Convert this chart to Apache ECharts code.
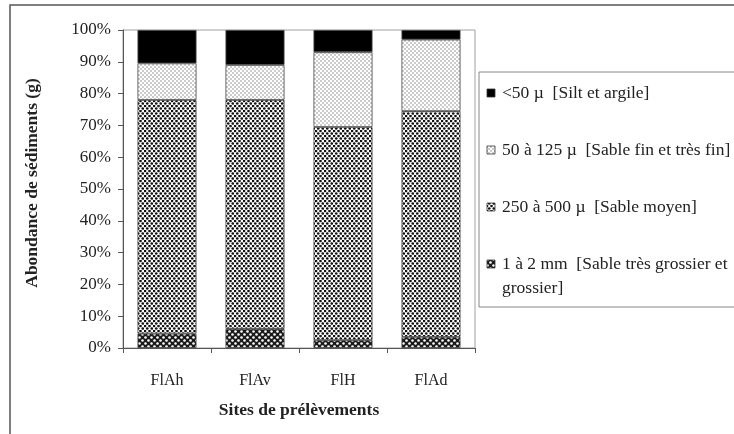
<!DOCTYPE html>
<html>
<head>
<meta charset="utf-8">
<script src="https://cdn.jsdelivr.net/npm/echarts@6/dist/echarts.min.js"></script>
<style>
html,body{margin:0;padding:0;background:#fff;}
#chart{width:734px;height:434px;}
</style>
</head>
<body>
<div id="chart"></div>
<script>
// ---- data ----
const categories = ['FlAh', 'FlAv', 'FlH', 'FlAd'];
const seriesNames = [
  '1 à 2 mm  [Sable très grossier et grossier]',
  '250 à 500 µ  [Sable moyen]',
  '50 à 125 µ  [Sable fin et très fin]',
  '<50 µ  [Silt et argile]'
];
// legend labels as displayed (top to bottom), with the original line break
const legendLabels = [
  '<50 µ  [Silt et argile]',
  '50 à 125 µ  [Sable fin et très fin]',
  '250 à 500 µ  [Sable moyen]',
  '1 à 2 mm  [Sable très grossier et\ngrossier]'
];
const coarse = [4.5, 6, 2.5, 3.5];
const medium = [73.5, 72, 67, 71];
const fine = [11.5, 11, 23.5, 22.5];
const silt = [10.5, 11, 7, 3];
const yTicks = [0, 10, 20, 30, 40, 50, 60, 70, 80, 90, 100];

// ---- patterns ----
function makePattern(w, h, bg, dots, dotColor, r) {
  const c = document.createElement('canvas');
  c.width = w; c.height = h;
  const ctx = c.getContext('2d');
  ctx.fillStyle = bg; ctx.fillRect(0, 0, w, h);
  ctx.fillStyle = dotColor;
  dots.forEach(function (d) {
    ctx.beginPath(); ctx.arc(d[0], d[1], r, 0, Math.PI * 2); ctx.fill();
  });
  return { image: c, repeat: 'repeat' };
}
const patCoarse = makePattern(6, 6, '#1a1a1a', [[1.5, 1.5], [4.5, 4.5]], '#ffffff', 1.3);
const patMedium = makePattern(9, 5, '#ffffff', [[1, 1], [5.5, 1], [3.25, 3.5], [7.75, 3.5]], '#111111', 1.35);
const patFine = makePattern(4, 4, '#ffffff', [[1, 1], [3, 3]], '#8a8a8a', 0.8);
const patterns = [patCoarse, patMedium, patFine, '#000000'];
const values = [coarse, medium, fine, silt];

const serif = '"Liberation Serif", "DejaVu Serif", serif';

const chart = echarts.init(document.getElementById('chart'), null, { renderer: 'canvas' });

const series = seriesNames.map(function (name, i) {
  return {
    name: name,
    type: 'bar',
    stack: 'total',
    barWidth: '67%',
    data: values[i],
    itemStyle: { color: patterns[i], borderColor: '#444', borderWidth: 0.8 },
    emphasis: { disabled: true }
  };
});

// legend drawn as graphic (icon aligned with first text line)
const legendTop = 93, legendStep = 57;
const legendGraphics = [];
legendLabels.forEach(function (label, k) {
  const si = 3 - k; // series index
  const cy = legendTop + k * legendStep;
  legendGraphics.push({
    type: 'rect', silent: true, z: 2,
    shape: { x: 487, y: cy - 4, width: 8, height: 8 },
    style: { fill: patterns[si], stroke: '#333', lineWidth: 0.8 }
  });
  legendGraphics.push({
    type: 'text', silent: true, z: 2,
    x: 502, y: cy - 11.5,
    style: {
      text: label, fontFamily: serif, fontSize: 17.5, fill: '#222',
      lineHeight: 24, verticalAlign: 'top', align: 'left'
    }
  });
});

chart.setOption({
  animation: false,
  backgroundColor: '#fff',
  grid: {
    left: 123, top: 30, width: 352, height: 318,
    show: true, borderColor: '#a0a0a0', borderWidth: 1
  },
  graphic: [
    { type: 'rect', shape: { x: 10, y: 5, width: 800, height: 500 },
      style: { fill: 'none', stroke: '#555', lineWidth: 1.5 }, silent: true, z: -1 },
    { type: 'rect', shape: { x: 479, y: 72, width: 300, height: 235 },
      style: { fill: '#fff', stroke: '#888', lineWidth: 1 }, silent: true, z: 1 }
  ].concat(legendGraphics),
  xAxis: {
    type: 'category',
    data: categories,
    name: 'Sites de prélèvements',
    nameLocation: 'middle',
    nameGap: 53,
    nameTextStyle: { fontFamily: serif, fontSize: 17.5, fontWeight: 'bold', color: '#222' },
    axisLine: { lineStyle: { color: '#555', width: 1 } },
    axisTick: { show: true, length: 5, lineStyle: { color: '#555' } },
    axisLabel: { margin: 25, fontFamily: serif, fontSize: 16, color: '#222' }
  },
  yAxis: {
    type: 'value',
    min: 0,
    max: 100,
    interval: 10,
    name: 'Abondance de sédiments (g)',
    nameLocation: 'middle',
    nameGap: 82,
    nameTextStyle: { fontFamily: serif, fontSize: 17.5, fontWeight: 'bold', color: '#222', padding: [0, 0, 0, 12] },
    axisLine: { show: true, lineStyle: { color: '#555', width: 1 } },
    axisTick: { show: true, length: 5, lineStyle: { color: '#555' } },
    splitLine: { show: false },
    axisLabel: {
      margin: 12, fontFamily: serif, fontSize: 17, color: '#222',
      formatter: function (v) { return yTicks.indexOf(v) >= 0 ? v + '%' : ''; }
    }
  },
  series: series
});
</script>
</body>
</html>
